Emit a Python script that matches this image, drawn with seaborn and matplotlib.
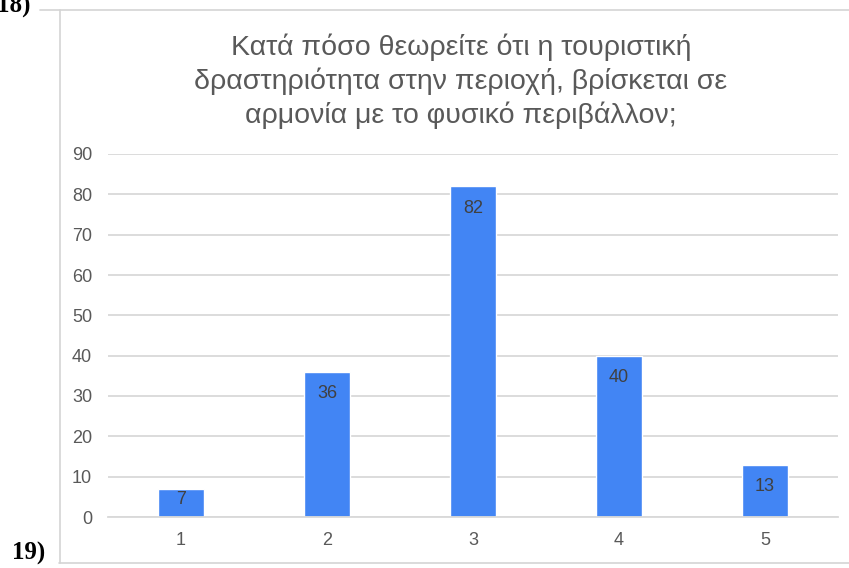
import matplotlib
matplotlib.use('Agg')
import matplotlib.pyplot as plt
from matplotlib.lines import Line2D
import seaborn as sns
import pandas as pd

sns.set_style('white')
plt.rcParams['font.family'] = ['Liberation Sans', 'DejaVu Sans']

title_lines = [
    'Κατά πόσο θεωρείτε ότι η τουριστική',
    'δραστηριότητα στην περιοχή, βρίσκεται σε',
    'αρμονία με το φυσικό περιβάλλον;',
]
categories = ['1', '2', '3', '4', '5']
counts = [7, 36, 82, 40, 13]
yticks = [0, 10, 20, 30, 40, 50, 60, 70, 80, 90]

df = pd.DataFrame({'answer': categories, 'count': counts})

W, H = 849, 568
fig = plt.figure(figsize=(W / 100, H / 100), dpi=100)
ax = fig.add_axes([108 / W, 1 - 517 / H, (838 - 108) / W, (517 - 154) / H])

sns.barplot(data=df, x='answer', y='count', color='#4285F4', saturation=1,
            width=0.31, ax=ax)

ax.set_ylim(0, 90)
ax.set_yticks(yticks)
ax.set_xlabel('')
ax.set_ylabel('')
ax.yaxis.grid(True, color='#d9d9d9', linewidth=1.3)
ax.set_axisbelow(True)
for side in ['left', 'right', 'top']:
    ax.spines[side].set_visible(False)
ax.spines['bottom'].set_color('#d9d9d9')
ax.spines['bottom'].set_linewidth(1.3)
ax.tick_params(axis='both', length=0, labelsize=13, labelcolor='#595959')
ax.tick_params(axis='y', pad=11.5)
ax.tick_params(axis='x', pad=11)

labels = ax.bar_label(ax.containers[0], padding=-22, fontsize=13, color='#404040')
# the short bar keeps its label pushed up to the top edge
for lab, v in zip(labels, counts):
    if v < 10:
        lab.xyann = (0, -13.5)

# title, three centred lines
for i, line in enumerate(title_lines):
    fig.text(461 / W, 1 - (55 + 34 * i) / H, line, ha='center', va='baseline',
             fontsize=20.5, color='#595959')

# chart frame and neighbouring page content
frame = '#d4d4d4'
fig.add_artist(Line2D([59.5 / W, 59.5 / W], [1 - 10 / H, 1 - 563 / H],
                      transform=fig.transFigure, color=frame, lw=1.2))
fig.add_artist(Line2D([59 / W, 1], [1 - 563 / H, 1 - 563 / H],
                      transform=fig.transFigure, color=frame, lw=1.2))
fig.add_artist(Line2D([40 / W, 1], [1 - 10 / H, 1 - 10 / H],
                      transform=fig.transFigure, color=frame, lw=1.2))

fig.text(-3 / W, 1 - 13 / H, '18)', ha='left', va='baseline', fontsize=18,
         fontweight='bold', family='Liberation Serif', color='black')
fig.text(12 / W, 1 - 560 / H, '19)', ha='left', va='baseline', fontsize=18,
         fontweight='bold', family='Liberation Serif', color='black')

fig.savefig('out.png', dpi=100)
